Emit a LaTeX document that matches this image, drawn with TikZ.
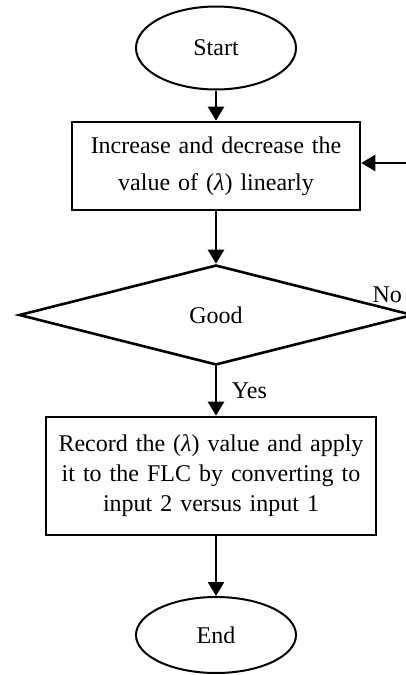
\documentclass[tikz,border=0pt]{standalone}
\usepackage{fontspec}
\setmainfont{Liberation Serif}
\usepackage{tikz}
\usetikzlibrary{shapes.geometric,arrows.meta}

\begin{document}
\begin{tikzpicture}[x=0.5pt, y=-0.5pt, font=\fontsize{12}{15}\selectfont,
  >={Triangle[width=8pt,length=7pt]}]
  \tikzstyle{terminal} = [ellipse, draw, line width=1pt, minimum width=80pt,
  inner sep=0pt]
  \tikzstyle{process} = [rectangle, draw, line width=1.3pt, inner sep=0pt,
  align=center]
  \tikzstyle{decision} = [diamond, draw, line width=1.3pt, inner sep=0pt,
  minimum width=197pt, minimum height=50pt]
  \tikzstyle{flow} = [->, line width=1.3pt]

  \useasboundingbox (0,0) rectangle (406,675);

  % Define nodes
  \node[terminal, minimum height=41.5pt] (start) at (216,48) {Start};
  \node[process, below of=start, node distance=59pt, minimum width=144pt,
    minimum height=44pt, text width=140pt,
    font=\fontsize{12}{18.5}\selectfont] (change)
    {Increase and decrease the\\value of ({\itshape λ}) linearly};
  \node[decision, below of=change, node distance=74.5pt] (good) {Good};
  \node[process, below of=good, node distance=80.5pt, xshift=-2.5pt,
    minimum width=165pt, minimum height=59pt, text width=160pt] (record)
    {Record the ({\itshape λ}) value and apply\\it to the FLC by converting to\\input 2 versus input 1};
  \node[terminal, minimum height=38pt] (end) at (216,635) {End};
  \node (no) at ([xshift=-13.5pt,yshift=10pt]good.east) {No};
  \coordinate (back) at (406,163);

  \path [flow] (start) edge (change);
  \path [flow] (change) edge (good);
  \path [flow] (good) edge node [right=4pt] {Yes} (good.south |- record.north);
  \path [flow] (good.south |- record.south) edge (end);
  \path [flow] (back) edge (back -| change.east);
\end{tikzpicture}
\end{document}
